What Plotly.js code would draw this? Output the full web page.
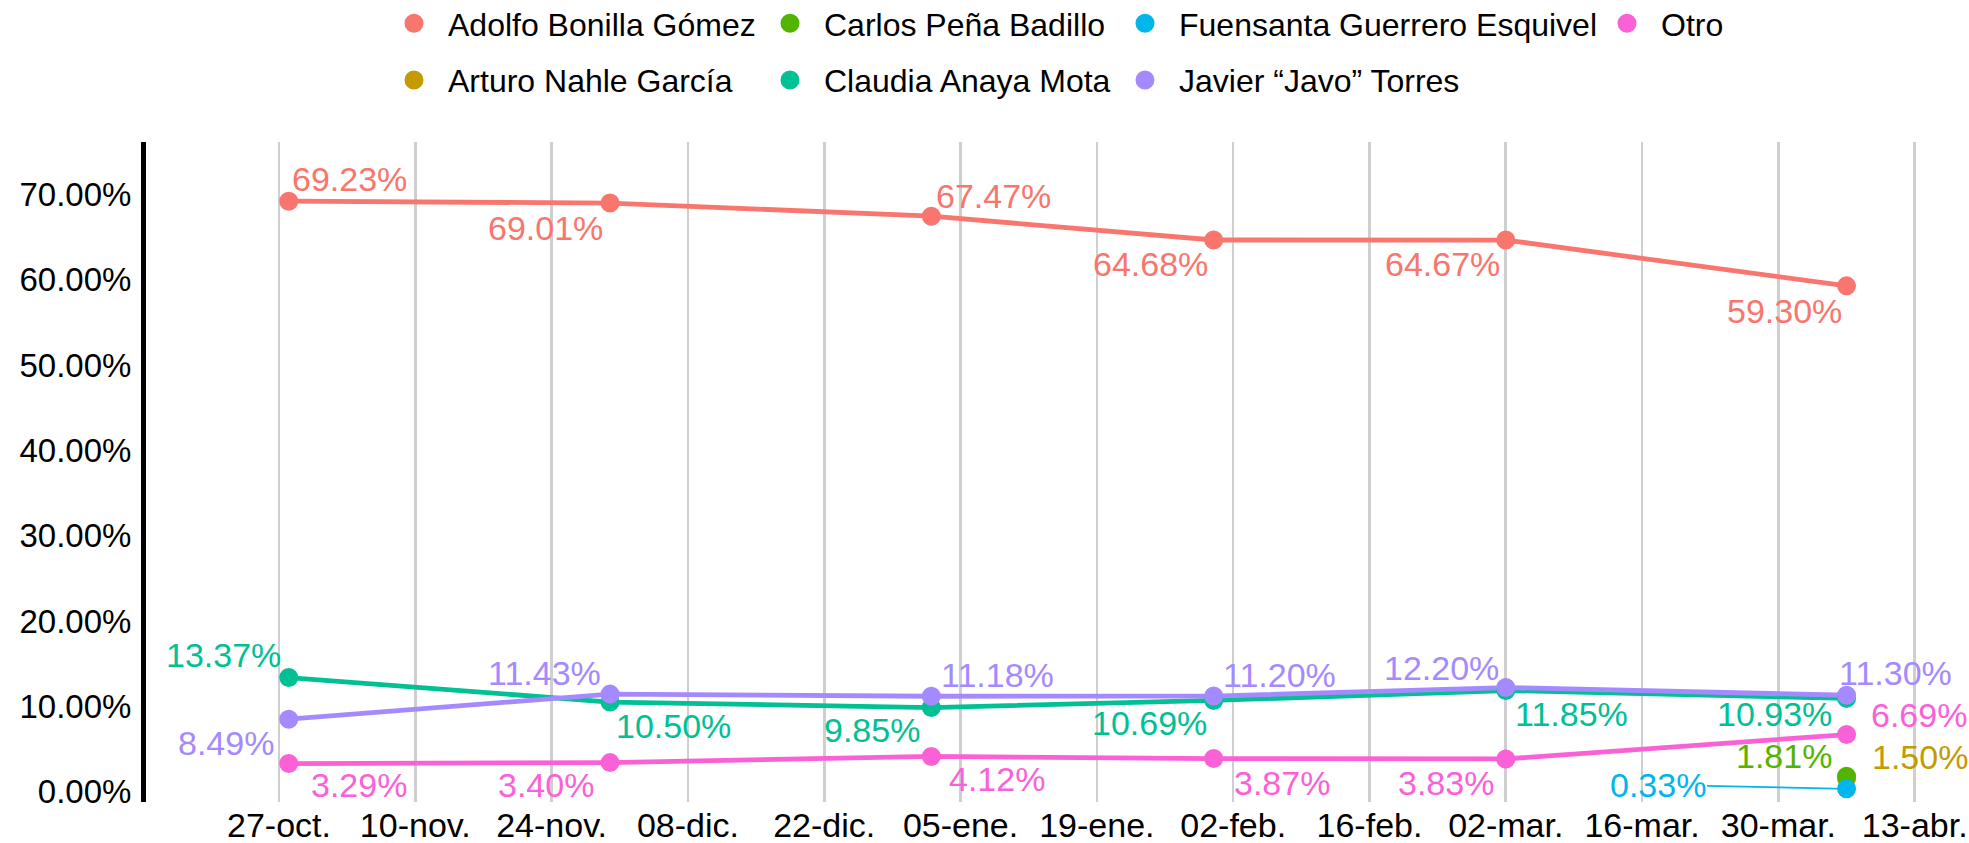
<!DOCTYPE html>
<html>
<head>
<meta charset="utf-8">
<script src="https://cdn.plot.ly/plotly-3.0.1.min.js"></script>
<style>html,body{margin:0;padding:0;background:#fff;}#chart{width:1969px;height:843px;}</style>
</head>
<body>
<div id="chart"></div>
<script>
// ---- data ----
const dates = ['2020-10-28', '2020-11-30', '2021-01-02', '2021-01-31', '2021-03-02', '2021-04-06'];
const lastDate = ['2021-04-06'];

const adolfo = [69.23, 69.01, 67.47, 64.68, 64.67, 59.30];
const claudia = [13.37, 10.50, 9.85, 10.69, 11.85, 10.93];
const javo = [8.49, 11.43, 11.18, 11.20, 12.20, 11.30];
const otro = [3.29, 3.40, 4.12, 3.87, 3.83, 6.69];
const carlos = [1.81];
const arturo = [1.50];
const fuensanta = [0.33];

const tickDates = ['2020-10-27', '2020-11-10', '2020-11-24', '2020-12-08', '2020-12-22', '2021-01-05',
  '2021-01-19', '2021-02-02', '2021-02-16', '2021-03-02', '2021-03-16', '2021-03-30', '2021-04-13'];
const tickLabels = ['27-oct.', '10-nov.', '24-nov.', '08-dic.', '22-dic.', '05-ene.', '19-ene.',
  '02-feb.', '16-feb.', '02-mar.', '16-mar.', '30-mar.', '13-abr.'];

// ---- label placement: pixel offset of each label's centre from its point (positions only) ----
const adolfoDx = [61, -65, 62, -63, -63, -62],  adolfoDy = [-22, 25, -20, 24, 24, 25];
const claudiaDx = [-65, 63, -59, -64, 66, -72], claudiaDy = [-23, 24, 22, 23, 23, 16];
const javoDx = [-63, -66, 66, 66, -64, 49],     javoDy = [24, -21, -21, -21, -20, -22];
const otroDx = [70, -64, 66, 68, -60, 72],      otroDy = [21, 22, 23, 24, 24, -20];
const carlosDx = [-63], carlosDy = [-20];
const arturoDx = [73],  arturoDy = [-22];
const fuensantaAx = [-189], fuensantaAy = [-4];

// ---- style ----
const FONT = 'Liberation Sans, Arial, sans-serif';
const FS = 34;
const series = [
  {name: 'Adolfo Bonilla Gómez', x: dates, y: adolfo, dx: adolfoDx, dy: adolfoDy, color: '#F8766D', legend: 'legend'},
  {name: 'Arturo Nahle García', x: lastDate, y: arturo, dx: arturoDx, dy: arturoDy, color: '#C49A00', legend: 'legend'},
  {name: 'Carlos Peña Badillo', x: lastDate, y: carlos, dx: carlosDx, dy: carlosDy, color: '#53B400', legend: 'legend2'},
  {name: 'Claudia Anaya Mota', x: dates, y: claudia, dx: claudiaDx, dy: claudiaDy, color: '#00C094', legend: 'legend2'},
  {name: 'Fuensanta Guerrero Esquivel', x: lastDate, y: fuensanta, ax: fuensantaAx, ay: fuensantaAy, color: '#00B6EB', legend: 'legend3'},
  {name: 'Javier \u201cJavo\u201d Torres', x: dates, y: javo, dx: javoDx, dy: javoDy, color: '#A58AFF', legend: 'legend3'},
  {name: 'Otro', x: dates, y: otro, dx: otroDx, dy: otroDy, color: '#FB61D7', legend: 'legend4'}
];

const traces = [];
series.forEach((s) => {
  traces.push({
    type: 'scatter', mode: 'lines', x: s.x, y: s.y, showlegend: false, hoverinfo: 'skip',
    line: {color: s.color, width: 4.8}
  });
});
series.forEach((s, i) => {
  traces.push({
    type: 'scatter', mode: 'markers', x: s.x, y: s.y, name: s.name,
    legend: s.legend, legendgroup: 'g' + i, cliponaxis: false,
    marker: {color: s.color, size: 15, line: {color: s.color, width: 4}}
  });
});

const annotations = [];
series.forEach((s) => {
  s.x.forEach((xv, j) => {
    const a = {
      x: xv, y: s.y[j], xref: 'x', yref: 'y',
      text: s.y[j].toFixed(2) + '%',
      font: {family: FONT, size: FS, color: s.color},
      xanchor: 'center', yanchor: 'middle'
    };
    if (s.ax) {
      Object.assign(a, {showarrow: true, arrowhead: 0, arrowwidth: 1.8, arrowcolor: s.color,
        standoff: 0, ax: s.ax[j], ay: s.ay[j]});
    } else {
      Object.assign(a, {showarrow: false, xshift: s.dx[j], yshift: -s.dy[j]});
    }
    annotations.push(a);
  });
});

function legendAt(x) {
  return {
    xref: 'paper', yref: 'paper', x: x, y: 1.2212, xanchor: 'left', yanchor: 'top',
    orientation: 'v', traceorder: 'grouped', tracegroupgap: 12, itemwidth: 58,
    font: {family: FONT, size: 32, color: '#000'}, bgcolor: 'rgba(0,0,0,0)', borderwidth: 0
  };
}

const layout = {
  width: 1969, height: 843,
  margin: {l: 146, r: 14, t: 142, b: 41, autoexpand: false},
  paper_bgcolor: '#fff', plot_bgcolor: '#fff',
  font: {family: FONT, size: FS, color: '#000'},
  showlegend: true,
  legend: legendAt(0.12935),
  legend2: legendAt(0.33720),
  legend3: legendAt(0.53344),
  legend4: legendAt(0.79989),
  xaxis: {
    type: 'date',
    range: ['2020-10-13 08:10', '2021-04-17 03:20'],
    tickmode: 'array', tickvals: tickDates, ticktext: tickLabels,
    showgrid: true, gridcolor: '#cfcfcf', gridwidth: 2.6,
    showline: false, zeroline: false, ticks: '', ticklabelstandoff: 0,
    tickfont: {family: FONT, size: FS, color: '#000'}
  },
  yaxis: {
    range: [-1.22, 76.17],
    tick0: 0, dtick: 10, tickformat: '.2f', ticksuffix: '%',
    showgrid: false, zeroline: false,
    showline: true, linecolor: '#000', linewidth: 5, ticks: '', ticklabelstandoff: 3,
    tickfont: {family: FONT, size: 33, color: '#000'}
  },
  annotations: annotations
};

Plotly.newPlot('chart', traces, layout, {displayModeBar: false, staticPlot: true});
</script>
</body>
</html>
